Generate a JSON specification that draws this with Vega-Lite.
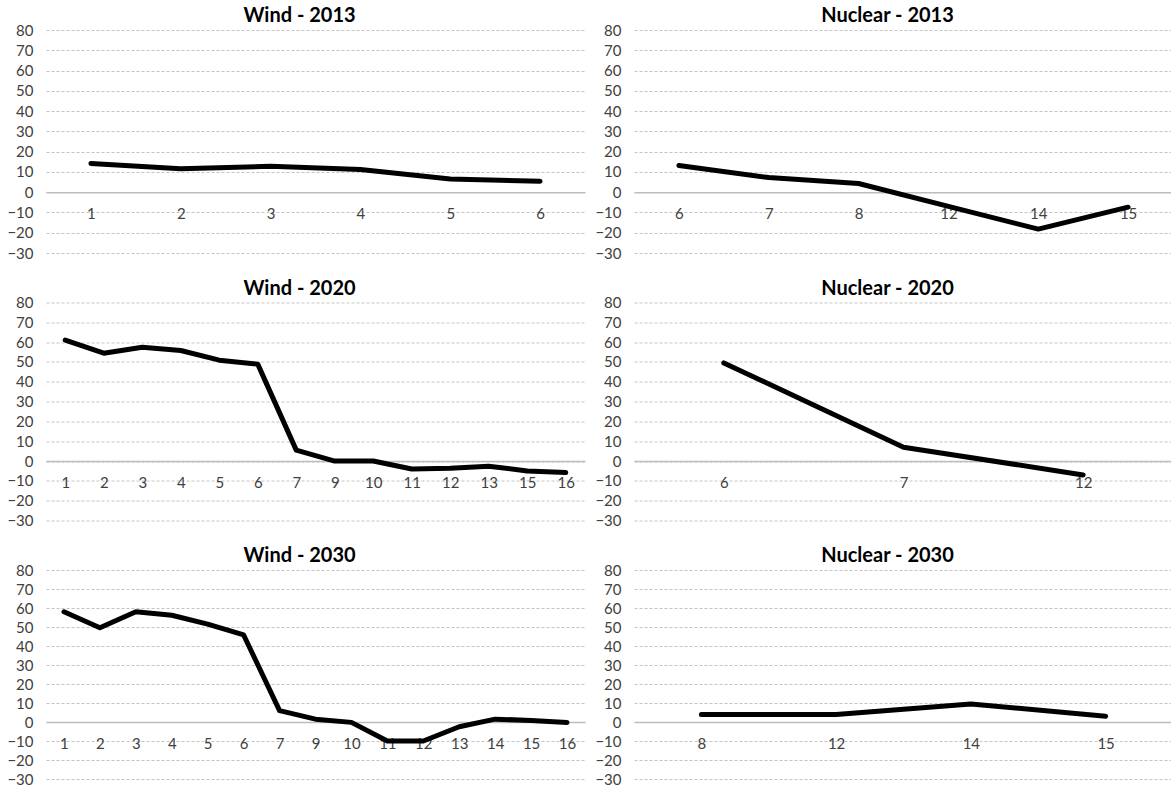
{
  "$schema": "https://vega.github.io/schema/vega-lite/v6.json",
  "background": "white",
  "padding": {"left": 6, "top": 6, "right": 0, "bottom": 0},
  "datasets": {
    "wind2013": [
      {"cat": "1", "value": 14.2}, {"cat": "2", "value": 11.6}, {"cat": "3", "value": 12.8},
      {"cat": "4", "value": 11.2}, {"cat": "5", "value": 6.5}, {"cat": "6", "value": 5.4}
    ],
    "nuclear2013": [
      {"cat": "6", "value": 13.2}, {"cat": "7", "value": 7.2}, {"cat": "8", "value": 4.3},
      {"cat": "12", "value": -7}, {"cat": "14", "value": -18.2}, {"cat": "15", "value": -7.4}
    ],
    "wind2020": [
      {"cat": "1", "value": 61}, {"cat": "2", "value": 54.4}, {"cat": "3", "value": 57.4},
      {"cat": "4", "value": 55.8}, {"cat": "5", "value": 50.9}, {"cat": "6", "value": 48.9},
      {"cat": "7", "value": 5.5}, {"cat": "9", "value": 0}, {"cat": "10", "value": 0},
      {"cat": "11", "value": -4}, {"cat": "12", "value": -3.6}, {"cat": "13", "value": -2.6},
      {"cat": "15", "value": -5}, {"cat": "16", "value": -5.8}
    ],
    "nuclear2020": [
      {"cat": "6", "value": 49.5}, {"cat": "7", "value": 7}, {"cat": "12", "value": -7}
    ],
    "wind2030": [
      {"cat": "1", "value": 58}, {"cat": "2", "value": 49.6}, {"cat": "3", "value": 58},
      {"cat": "4", "value": 56.2}, {"cat": "5", "value": 51.5}, {"cat": "6", "value": 45.8},
      {"cat": "7", "value": 6}, {"cat": "9", "value": 1.5}, {"cat": "10", "value": -0.2},
      {"cat": "11", "value": -10}, {"cat": "12", "value": -10}, {"cat": "13", "value": -2.5},
      {"cat": "14", "value": 1.5}, {"cat": "15", "value": 0.8}, {"cat": "16", "value": -0.2}
    ],
    "nuclear2030": [
      {"cat": "8", "value": 4}, {"cat": "12", "value": 4}, {"cat": "14", "value": 9.5}, {"cat": "15", "value": 3}
    ]
  },
  "spacing": 17.5,
  "vconcat": [
    {
      "spacing": 9,
      "hconcat": [
        {
          "title": "Wind - 2013", "width": 539, "height": 223,
          "data": {"name": "wind2013"},
          "mark": {"type": "line", "color": "black", "strokeWidth": 5, "strokeCap": "round", "strokeJoin": "round"},
          "encoding": {
            "x": {"field": "cat", "type": "ordinal", "sort": null, "scale": {"type": "point", "padding": 0.5}, "axis": {"offset": -60.8}},
            "y": {"field": "value", "type": "quantitative", "scale": {"domain": [-30, 80], "nice": false, "zero": false}, "axis": {"values": [-30, -20, -10, 0, 10, 20, 30, 40, 50, 60, 70, 80]}}
          }
        },
        {
          "title": "Nuclear - 2013", "width": 539, "height": 223,
          "data": {"name": "nuclear2013"},
          "mark": {"type": "line", "color": "black", "strokeWidth": 5, "strokeCap": "round", "strokeJoin": "round"},
          "encoding": {
            "x": {"field": "cat", "type": "ordinal", "sort": null, "scale": {"type": "point", "padding": 0.5}, "axis": {"offset": -60.8}},
            "y": {"field": "value", "type": "quantitative", "scale": {"domain": [-30, 80], "nice": false, "zero": false}, "axis": {"values": [-30, -20, -10, 0, 10, 20, 30, 40, 50, 60, 70, 80]}}
          }
        }
      ]
    },
    {
      "spacing": 9,
      "hconcat": [
        {
          "title": "Wind - 2020", "width": 539, "height": 218,
          "data": {"name": "wind2020"},
          "mark": {"type": "line", "color": "black", "strokeWidth": 5, "strokeCap": "round", "strokeJoin": "round"},
          "encoding": {
            "x": {"field": "cat", "type": "ordinal", "sort": null, "scale": {"type": "point", "padding": 0.5}, "axis": {"offset": -59.5}},
            "y": {"field": "value", "type": "quantitative", "scale": {"domain": [-30, 80], "nice": false, "zero": false}, "axis": {"values": [-30, -20, -10, 0, 10, 20, 30, 40, 50, 60, 70, 80]}}
          }
        },
        {
          "title": "Nuclear - 2020", "width": 539, "height": 218,
          "data": {"name": "nuclear2020"},
          "mark": {"type": "line", "color": "black", "strokeWidth": 5, "strokeCap": "round", "strokeJoin": "round"},
          "encoding": {
            "x": {"field": "cat", "type": "ordinal", "sort": null, "scale": {"type": "point", "padding": 0.5}, "axis": {"offset": -59.5}},
            "y": {"field": "value", "type": "quantitative", "scale": {"domain": [-30, 80], "nice": false, "zero": false}, "axis": {"values": [-30, -20, -10, 0, 10, 20, 30, 40, 50, 60, 70, 80]}}
          }
        }
      ]
    },
    {
      "spacing": 9,
      "hconcat": [
        {
          "title": "Wind - 2030", "width": 539, "height": 209,
          "data": {"name": "wind2030"},
          "mark": {"type": "line", "color": "black", "strokeWidth": 5, "strokeCap": "round", "strokeJoin": "round"},
          "encoding": {
            "x": {"field": "cat", "type": "ordinal", "sort": null, "scale": {"type": "point", "padding": 0.5}, "axis": {"offset": -57}},
            "y": {"field": "value", "type": "quantitative", "scale": {"domain": [-30, 80], "nice": false, "zero": false}, "axis": {"values": [-30, -20, -10, 0, 10, 20, 30, 40, 50, 60, 70, 80]}}
          }
        },
        {
          "title": "Nuclear - 2030", "width": 539, "height": 209,
          "data": {"name": "nuclear2030"},
          "mark": {"type": "line", "color": "black", "strokeWidth": 5, "strokeCap": "round", "strokeJoin": "round"},
          "encoding": {
            "x": {"field": "cat", "type": "ordinal", "sort": null, "scale": {"type": "point", "padding": 0.5}, "axis": {"offset": -57}},
            "y": {"field": "value", "type": "quantitative", "scale": {"domain": [-30, 80], "nice": false, "zero": false}, "axis": {"values": [-30, -20, -10, 0, 10, 20, 30, 40, 50, 60, 70, 80]}}
          }
        }
      ]
    }
  ],
  "config": {
    "view": {"stroke": null},
    "font": "Lato",
    "axis": {"labelFont": "Lato", "labelFontSize": 15, "labelColor": "#404040", "ticks": false, "title": null, "labelOverlap": false, "labelFlush": false},
    "axisY": {"domain": false, "grid": true, "gridColor": "#c4c4c4", "gridDash": [3, 2], "gridWidth": 1, "labelPadding": 13},
    "axisX": {"domain": true, "domainColor": "#bdbdbd", "domainWidth": 1.6, "grid": false, "labelPadding": 14, "labelAngle": 0},
    "title": {"font": "Lato", "fontSize": 20, "fontWeight": "bold", "color": "#000000", "offset": -3, "dx": -16}
  }
}
